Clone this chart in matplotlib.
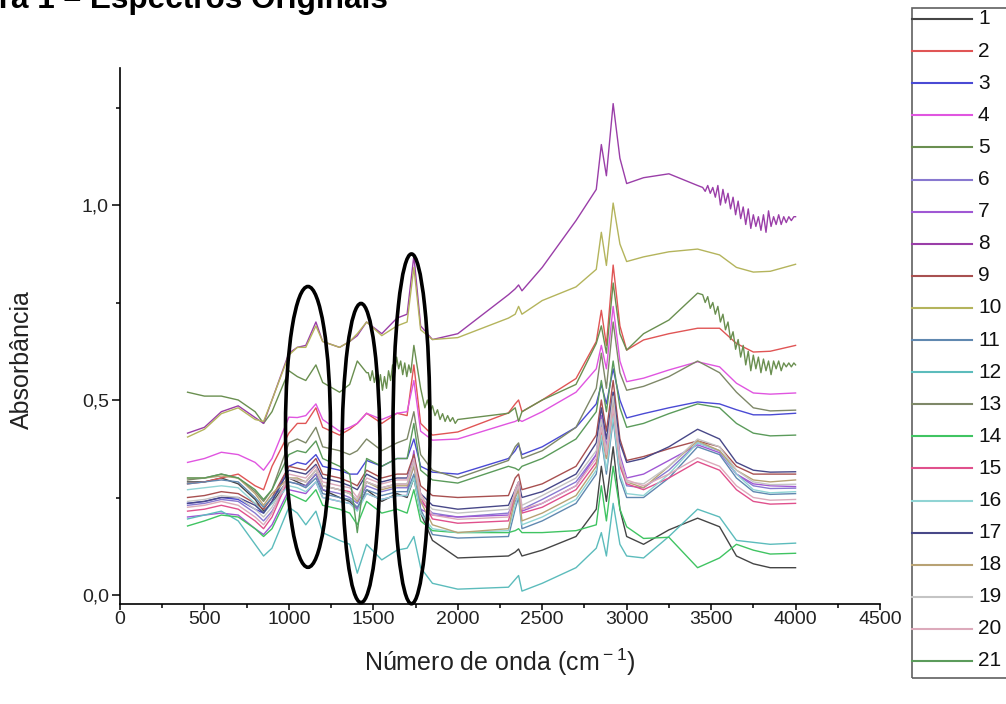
import matplotlib
matplotlib.use('Agg')
import matplotlib.pyplot as plt
from matplotlib.patches import Ellipse, Rectangle
from matplotlib.lines import Line2D
from matplotlib import font_manager

# ---------------- data ----------------
WAVENUMBER = [400, 500, 600, 700, 800, 850, 900, 1000, 1050, 1100, 1160, 1200, 1300, 1360,
              1405, 1460, 1550, 1640, 1700, 1740, 1780, 1850, 2000, 2300, 2340, 2360, 2380,
              2500, 2700, 2820, 2850, 2880, 2920, 2960, 3000, 3100, 3250, 3420, 3550, 3650,
              3750, 3850, 4000]

S1 = [0.29, 0.29, 0.30, 0.285, 0.245, 0.215, 0.235, 0.30, 0.29, 0.28, 0.31, 0.27, 0.25, 0.24, 0.22, 0.27, 0.24, 0.26, 0.25, 0.30, 0.21, 0.14, 0.095, 0.10, 0.11, 0.118, 0.10, 0.115, 0.15, 0.22, 0.33, 0.24, 0.38, 0.22, 0.15, 0.13, 0.167, 0.197, 0.175, 0.10, 0.08, 0.07, 0.07]
S2 = [0.285, 0.29, 0.30, 0.31, 0.28, 0.27, 0.33, 0.415, 0.44, 0.44, 0.48, 0.43, 0.41, 0.425, 0.44, 0.466, 0.44, 0.466, 0.46, 0.59, 0.44, 0.41, 0.418, 0.467, 0.49, 0.50, 0.47, 0.50, 0.555, 0.65, 0.73, 0.64, 0.846, 0.69, 0.628, 0.654, 0.67, 0.684, 0.684, 0.645, 0.623, 0.625, 0.64]
S3 = [0.235, 0.24, 0.25, 0.245, 0.22, 0.21, 0.24, 0.33, 0.34, 0.335, 0.36, 0.33, 0.32, 0.31, 0.31, 0.345, 0.33, 0.35, 0.35, 0.40, 0.33, 0.315, 0.31, 0.35, 0.37, 0.385, 0.36, 0.38, 0.43, 0.49, 0.54, 0.49, 0.58, 0.50, 0.454, 0.465, 0.48, 0.495, 0.49, 0.475, 0.462, 0.462, 0.466]
S4 = [0.34, 0.35, 0.366, 0.36, 0.34, 0.32, 0.35, 0.456, 0.455, 0.46, 0.49, 0.45, 0.42, 0.43, 0.44, 0.466, 0.45, 0.466, 0.47, 0.55, 0.42, 0.397, 0.40, 0.44, 0.445, 0.45, 0.445, 0.47, 0.52, 0.58, 0.64, 0.58, 0.74, 0.60, 0.547, 0.556, 0.577, 0.598, 0.585, 0.543, 0.518, 0.515, 0.518]
S5 = [0.52, 0.51, 0.51, 0.50, 0.47, 0.44, 0.47, 0.575, 0.56, 0.55, 0.59, 0.545, 0.52, 0.54, 0.60, 0.57, 0.54, 0.60, 0.58, 0.64, 0.53, 0.47, 0.45, 0.466, 0.48, 0.445, 0.47, 0.50, 0.54, 0.645, 0.69, 0.62, 0.80, 0.67, 0.628, 0.67, 0.705, 0.774, 0.72, 0.645, 0.594, 0.587, 0.59]
S6 = [0.23, 0.235, 0.245, 0.24, 0.21, 0.19, 0.215, 0.29, 0.285, 0.28, 0.31, 0.27, 0.26, 0.25, 0.235, 0.28, 0.265, 0.275, 0.275, 0.33, 0.24, 0.21, 0.20, 0.21, 0.25, 0.27, 0.22, 0.245, 0.29, 0.36, 0.44, 0.36, 0.50, 0.34, 0.28, 0.275, 0.32, 0.39, 0.37, 0.31, 0.28, 0.273, 0.274]
S7 = [0.20, 0.205, 0.21, 0.205, 0.17, 0.155, 0.18, 0.27, 0.265, 0.26, 0.29, 0.25, 0.24, 0.235, 0.22, 0.26, 0.245, 0.255, 0.255, 0.37, 0.22, 0.205, 0.20, 0.205, 0.24, 0.255, 0.215, 0.235, 0.28, 0.36, 0.46, 0.38, 0.52, 0.36, 0.30, 0.31, 0.345, 0.385, 0.365, 0.31, 0.285, 0.28, 0.278]
S8 = [0.415, 0.43, 0.47, 0.485, 0.455, 0.44, 0.50, 0.62, 0.635, 0.64, 0.70, 0.65, 0.635, 0.65, 0.665, 0.70, 0.67, 0.71, 0.72, 0.87, 0.69, 0.655, 0.67, 0.77, 0.785, 0.795, 0.78, 0.84, 0.96, 1.04, 1.155, 1.075, 1.26, 1.12, 1.055, 1.07, 1.08, 1.05, 1.025, 0.99, 0.955, 0.955, 0.97]
S9 = [0.25, 0.255, 0.265, 0.26, 0.235, 0.22, 0.25, 0.33, 0.325, 0.32, 0.35, 0.31, 0.30, 0.29, 0.28, 0.32, 0.30, 0.31, 0.31, 0.36, 0.28, 0.255, 0.25, 0.255, 0.30, 0.31, 0.27, 0.285, 0.33, 0.41, 0.50, 0.42, 0.55, 0.40, 0.345, 0.355, 0.375, 0.395, 0.38, 0.33, 0.31, 0.31, 0.31]
S10 = [0.405, 0.425, 0.465, 0.48, 0.45, 0.445, 0.50, 0.615, 0.635, 0.635, 0.69, 0.65, 0.635, 0.65, 0.67, 0.70, 0.665, 0.69, 0.70, 0.84, 0.68, 0.655, 0.66, 0.71, 0.72, 0.74, 0.72, 0.755, 0.79, 0.835, 0.93, 0.845, 1.005, 0.90, 0.855, 0.867, 0.88, 0.887, 0.872, 0.84, 0.828, 0.83, 0.848]
S11 = [0.285, 0.29, 0.295, 0.29, 0.25, 0.225, 0.25, 0.29, 0.285, 0.275, 0.30, 0.26, 0.25, 0.245, 0.225, 0.27, 0.255, 0.265, 0.265, 0.31, 0.22, 0.155, 0.146, 0.15, 0.22, 0.25, 0.17, 0.19, 0.235, 0.31, 0.40, 0.31, 0.45, 0.30, 0.25, 0.25, 0.30, 0.38, 0.36, 0.30, 0.265, 0.258, 0.26]
S12 = [0.195, 0.205, 0.215, 0.19, 0.13, 0.10, 0.12, 0.225, 0.21, 0.18, 0.215, 0.16, 0.14, 0.13, 0.056, 0.13, 0.09, 0.115, 0.12, 0.15, 0.07, 0.03, 0.015, 0.02, 0.04, 0.05, 0.01, 0.03, 0.07, 0.12, 0.16, 0.10, 0.235, 0.13, 0.10, 0.095, 0.15, 0.22, 0.20, 0.14, 0.135, 0.13, 0.133]
S13 = [0.295, 0.30, 0.31, 0.30, 0.265, 0.24, 0.27, 0.39, 0.40, 0.39, 0.43, 0.38, 0.37, 0.36, 0.37, 0.40, 0.37, 0.39, 0.40, 0.47, 0.36, 0.32, 0.30, 0.345, 0.38, 0.39, 0.35, 0.37, 0.43, 0.53, 0.62, 0.53, 0.70, 0.57, 0.525, 0.535, 0.56, 0.60, 0.57, 0.52, 0.48, 0.472, 0.474]
S14 = [0.177, 0.19, 0.205, 0.20, 0.17, 0.15, 0.17, 0.26, 0.25, 0.24, 0.27, 0.23, 0.22, 0.21, 0.18, 0.24, 0.21, 0.22, 0.21, 0.27, 0.19, 0.165, 0.16, 0.16, 0.165, 0.17, 0.16, 0.16, 0.165, 0.18, 0.28, 0.19, 0.33, 0.22, 0.175, 0.145, 0.148, 0.07, 0.095, 0.13, 0.115, 0.105, 0.107]
S15 = [0.215, 0.22, 0.23, 0.22, 0.19, 0.17, 0.20, 0.30, 0.295, 0.29, 0.32, 0.28, 0.27, 0.265, 0.24, 0.29, 0.275, 0.285, 0.285, 0.34, 0.25, 0.195, 0.184, 0.19, 0.26, 0.28, 0.21, 0.225, 0.27, 0.34, 0.42, 0.35, 0.47, 0.33, 0.285, 0.27, 0.30, 0.342, 0.32, 0.27, 0.24, 0.233, 0.235]
S16 = [0.27, 0.275, 0.28, 0.275, 0.235, 0.21, 0.235, 0.28, 0.275, 0.265, 0.29, 0.25, 0.24, 0.235, 0.215, 0.26, 0.245, 0.255, 0.255, 0.30, 0.21, 0.17, 0.16, 0.165, 0.23, 0.26, 0.18, 0.20, 0.245, 0.32, 0.41, 0.32, 0.46, 0.31, 0.26, 0.255, 0.31, 0.39, 0.37, 0.31, 0.27, 0.262, 0.265]
S17 = [0.235, 0.24, 0.25, 0.25, 0.23, 0.21, 0.24, 0.32, 0.315, 0.31, 0.335, 0.30, 0.29, 0.28, 0.27, 0.31, 0.29, 0.30, 0.30, 0.35, 0.26, 0.23, 0.22, 0.23, 0.27, 0.29, 0.25, 0.265, 0.31, 0.39, 0.48, 0.40, 0.52, 0.39, 0.34, 0.35, 0.38, 0.425, 0.40, 0.34, 0.32, 0.315, 0.316]
S18 = [0.30, 0.30, 0.305, 0.30, 0.26, 0.23, 0.26, 0.30, 0.30, 0.29, 0.32, 0.28, 0.27, 0.26, 0.24, 0.29, 0.27, 0.28, 0.28, 0.33, 0.24, 0.18, 0.16, 0.17, 0.25, 0.27, 0.19, 0.21, 0.255, 0.33, 0.43, 0.35, 0.49, 0.34, 0.29, 0.275, 0.33, 0.395, 0.37, 0.32, 0.295, 0.29, 0.295]
S19 = [0.24, 0.245, 0.255, 0.25, 0.22, 0.20, 0.225, 0.30, 0.295, 0.29, 0.32, 0.28, 0.27, 0.26, 0.245, 0.29, 0.275, 0.285, 0.285, 0.34, 0.25, 0.22, 0.21, 0.22, 0.26, 0.28, 0.23, 0.255, 0.30, 0.37, 0.45, 0.37, 0.51, 0.35, 0.29, 0.285, 0.33, 0.40, 0.38, 0.32, 0.29, 0.283, 0.284]
S20 = [0.225, 0.23, 0.24, 0.23, 0.20, 0.18, 0.21, 0.31, 0.305, 0.30, 0.33, 0.29, 0.28, 0.275, 0.25, 0.30, 0.285, 0.295, 0.295, 0.35, 0.26, 0.205, 0.194, 0.20, 0.27, 0.29, 0.22, 0.235, 0.28, 0.35, 0.43, 0.36, 0.48, 0.34, 0.295, 0.28, 0.31, 0.352, 0.33, 0.28, 0.25, 0.243, 0.245]
S21 = [0.30, 0.30, 0.31, 0.30, 0.27, 0.245, 0.27, 0.36, 0.37, 0.365, 0.395, 0.35, 0.33, 0.31, 0.16, 0.35, 0.33, 0.35, 0.35, 0.44, 0.32, 0.295, 0.287, 0.33, 0.325, 0.32, 0.33, 0.35, 0.40, 0.47, 0.55, 0.47, 0.60, 0.48, 0.43, 0.44, 0.465, 0.49, 0.48, 0.44, 0.415, 0.408, 0.41]

# noisy stretches (series 5 and 8)
N5A_X = [1470, 1482, 1494, 1506, 1518, 1530, 1542, 1554, 1566, 1578, 1590, 1602, 1614, 1626, 1638, 1650, 1662, 1674, 1686, 1698, 1710, 1722]
N5A_Y = [0.57, 0.55, 0.575, 0.545, 0.57, 0.53, 0.565, 0.525, 0.56, 0.53, 0.575, 0.55, 0.59, 0.57, 0.61, 0.58, 0.60, 0.565, 0.595, 0.56, 0.59, 0.57]
N5B_X = [1790, 1805, 1820, 1835, 1850, 1865, 1880, 1895, 1910, 1925, 1940, 1955, 1970, 1985]
N5B_Y = [0.51, 0.48, 0.50, 0.47, 0.485, 0.46, 0.475, 0.45, 0.465, 0.445, 0.46, 0.445, 0.455, 0.44]
N5C_X = [3450, 3465, 3480, 3495, 3510, 3525, 3540, 3555, 3570, 3585, 3600, 3615, 3630, 3645, 3660, 3675, 3690, 3705, 3720, 3735, 3750, 3765, 3780, 3795, 3810, 3825, 3840, 3855, 3870, 3885, 3900, 3915, 3930, 3945, 3960, 3975, 3990]
N5C_Y = [0.77, 0.75, 0.765, 0.735, 0.75, 0.72, 0.74, 0.70, 0.72, 0.68, 0.70, 0.655, 0.675, 0.63, 0.655, 0.61, 0.64, 0.59, 0.625, 0.575, 0.615, 0.58, 0.61, 0.57, 0.605, 0.575, 0.60, 0.565, 0.60, 0.58, 0.60, 0.575, 0.595, 0.585, 0.595, 0.585, 0.595]
N8_X = N5C_X
N8_Y = [1.045, 1.035, 1.05, 1.03, 1.045, 1.02, 1.05, 1.00, 1.04, 1.005, 1.03, 0.99, 1.02, 0.975, 1.01, 0.965, 0.995, 0.95, 0.99, 0.94, 0.975, 0.945, 0.97, 0.935, 0.975, 0.93, 0.985, 0.945, 0.97, 0.95, 0.975, 0.95, 0.97, 0.955, 0.97, 0.96, 0.97]

LABELS = [str(i) for i in range(1, 22)]
COLORS = ['#454545', '#e05555', '#4a4ad4', '#e055e0', '#6a8f50', '#8878d0', '#a058d4',
          '#9a3ea8', '#a85050', '#b4b45c', '#6088b0', '#5cbcbc', '#7e8868', '#40c462',
          '#e0508c', '#90d4d4', '#484888', '#b8a274', '#c4c4c4', '#dcaabb', '#5b9b5b']

SERIES = [S1, S2, S3, S4, S5, S6, S7, S8, S9, S10, S11, S12, S13, S14, S15, S16, S17, S18, S19, S20, S21]
EXTRA = {4: [(N5A_X, N5A_Y), (N5B_X, N5B_Y), (N5C_X, N5C_Y)], 7: [(N8_X, N8_Y)]}

X_TICKS = [0, 500, 1000, 1500, 2000, 2500, 3000, 3500, 4000, 4500]
Y_TICKS = [0.0, 0.5, 1.0]
Y_TICK_LABELS = ['0,0', '0,5', '1,0']

# ---------------- style ----------------
plt.rcParams['font.family'] = ['Liberation Sans', 'DejaVu Sans']
plt.rcParams['mathtext.fontset'] = 'custom'
plt.rcParams['mathtext.rm'] = 'Liberation Sans'
names = {f.name for f in font_manager.fontManager.ttflist}
NARROW = ['Liberation Sans Narrow', 'Liberation Sans'] if 'Liberation Sans Narrow' in names else ['Liberation Sans']

W, H = 1006, 704
fig = plt.figure(figsize=(W / 100, H / 100), dpi=100)
AX_TOP, AX_BOT, AX_L, AX_R = 68, 604, 120, 880
ax = fig.add_axes([AX_L / W, 1 - AX_BOT / H, (AX_R - AX_L) / W, (AX_BOT - AX_TOP) / H])


def merged(xs, ys, extras):
    pts = list(zip(xs, ys))
    for ex, ey in extras:
        lo, hi = ex[0], ex[-1]
        pts = [p for p in pts if p[0] < lo or p[0] > hi]
        pts += list(zip(ex, ey))
    pts.sort()
    return [p[0] for p in pts], [p[1] for p in pts]


for i, (ys, c) in enumerate(zip(SERIES, COLORS)):
    assert len(ys) == len(WAVENUMBER)
    xs, yv = merged(WAVENUMBER, ys, EXTRA.get(i, []))
    ax.plot(xs, yv, color=c, lw=1.0, zorder=2)

# annotation ellipses
for (cx, cy, w, h) in [(1113, 0.431, 266, 0.72), (1427, 0.364, 225, 0.767), (1726, 0.426, 219, 0.897)]:
    ax.add_patch(Ellipse((cx, cy), w, h, fill=False, ec='black', lw=2.6, zorder=5, clip_on=False))

ax.set_xlim(0, 4500)
ax.set_ylim((595 - AX_BOT) / 390, (595 - AX_TOP) / 390)
ax.spines['top'].set_visible(False)
ax.spines['right'].set_visible(False)
for s in ('left', 'bottom'):
    ax.spines[s].set_linewidth(1.2)
ax.set_xticks(X_TICKS)
ax.set_xticks([250 + 500 * k for k in range(9)], minor=True)
ax.set_yticks(Y_TICKS)
ax.set_yticklabels(Y_TICK_LABELS)
ax.set_yticks([0.25, 0.75, 1.25], minor=True)
ax.tick_params(axis='y', which='major', direction='out', length=6, width=1.1, labelsize=14, pad=2)
ax.tick_params(axis='x', which='major', direction='out', length=4, width=1.1, labelsize=14, pad=1)
ax.tick_params(which='minor', direction='out', length=3, width=1.1)
for lab in ax.get_xticklabels() + ax.get_yticklabels():
    lab.set_family(NARROW)
    lab.set_color('#222222')

fig.text(22 / W, 1 - 360 / H, 'Absorbância', rotation=90, ha='center', va='center', fontsize=18, color='#222222')
fig.text(500 / W, 1 - 662 / H, r'Número de onda (cm$^{\rm -1}$)', ha='center', va='center', fontsize=18, color='#222222')

# clipped figure title
fig.text(388 / W, 1 - 8 / H, 'Figura 1 – Espectros Originais', ha='right', va='baseline',
         fontsize=22.7, fontweight='bold')

# legend (right side, partly outside the picture)
LEG_L, LEG_TOP, LEG_BOT = 912, 8, 678
fig.add_artist(Rectangle((LEG_L / W, 1 - LEG_BOT / H), 200 / W, (LEG_BOT - LEG_TOP) / H,
                         transform=fig.transFigure, fill=False, ec='#606060', lw=1.2))
for k, (lbl, c) in enumerate(zip(LABELS, COLORS)):
    yy = 1 - (19 + 32.1 * k) / H
    fig.add_artist(Line2D([LEG_L / W, 972 / W], [yy, yy], color=c, lw=1.5, transform=fig.transFigure))
    fig.text(978 / W, yy, lbl, ha='left', va='center', fontsize=15, color='#111111')

fig.savefig('out.png', dpi=100)
